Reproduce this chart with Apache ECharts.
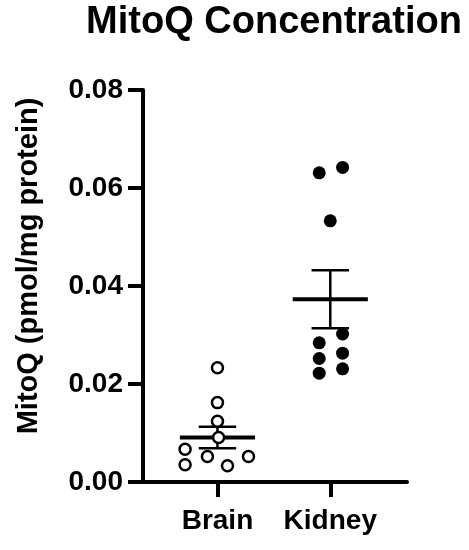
<!DOCTYPE html>
<html>
<head>
  <meta charset="utf-8" />
  <title>MitoQ Concentration</title>
  <script src="https://cdn.jsdelivr.net/npm/echarts@6/dist/echarts.min.js"></script>
  <style>
    html, body { margin: 0; padding: 0; background: #fff; }
    #main { width: 469px; height: 550px; }
  </style>
</head>
<body>
  <div id="main"></div>
  <script type="text/javascript">
    // groups and their x positions
    var groups = ['Brain', 'Kidney'];
    var groupPos = [1, 2];

    // individual values (pmol/mg protein) with horizontal scatter offsets
    var brainValues = [0.0233, 0.0162, 0.0124, 0.0091, 0.0067, 0.0035, 0.0052, 0.0033, 0.0052];
    var brainJitter = [0.0, 0.0, 0.0, 0.01, -0.287, -0.287, -0.089, 0.089, 0.275];
    var kidneyValues = [0.0631, 0.0284, 0.0252, 0.0222, 0.0642, 0.0302, 0.0263, 0.0231, 0.0533];
    var kidneyJitter = [-0.098, -0.098, -0.098, -0.098, 0.109, 0.109, 0.109, 0.109, 0.0];

    // mean and SEM shown by the bars
    var meanValues = [0.0091, 0.0373];
    var semValues = [0.0022, 0.0059];

    var yTicks = [0, 0.02, 0.04, 0.06, 0.08];

    var FONT = 'Arial, "Liberation Sans", sans-serif';

    function points(vals, jit, base) {
        return vals.map(function (v, i) { return [base + jit[i], v]; });
    }

    var myChart = echarts.init(document.getElementById('main'), null, {renderer: 'canvas'});

    var option = {
        backgroundColor: '#ffffff',
        animation: false,
        title: {
            text: 'MitoQ Concentration',
            left: 269, top: -1, textAlign: 'center',
            textStyle: {fontFamily: FONT, fontWeight: 'bold', fontSize: 38, color: '#000'}
        },
        grid: {left: 143, top: 90, width: 264, height: 392},
        xAxis: {
            type: 'value', min: 0.34, max: 2.68,
            splitLine: {show: false},
            axisLine: {show: true, lineStyle: {color: '#000', width: 4}},
            axisTick: {show: true, customValues: groupPos, length: 15, lineStyle: {color: '#000', width: 4}},
            axisLabel: {
                show: true, customValues: groupPos, margin: 25,
                formatter: function (v) { return groups[groupPos.indexOf(v)]; },
                fontFamily: FONT, fontWeight: 'bold', fontSize: 28, color: '#000'
            }
        },
        yAxis: {
            type: 'value', min: yTicks[0], max: yTicks[yTicks.length - 1], interval: 0.02,
            name: 'MitoQ (pmol/mg protein)', nameLocation: 'middle', nameGap: 100,
            nameTextStyle: {fontFamily: FONT, fontWeight: 'bold', fontSize: 29, color: '#000', padding: [0, 0, 0, 40]},
            splitLine: {show: false},
            axisLine: {show: true, lineStyle: {color: '#000', width: 4}},
            axisTick: {show: true, length: 15, lineStyle: {color: '#000', width: 4}},
            axisLabel: {
                margin: 20,
                formatter: function (v) { return v.toFixed(2); },
                fontFamily: FONT, fontWeight: 'bold', fontSize: 28, color: '#000'
            }
        },
        series: [
            {
                name: 'meanSem', type: 'custom', z: 2,
                data: groupPos.map(function (x, i) { return [x, meanValues[i], semValues[i]]; }),
                renderItem: function (params, api) {
                    var x = api.value(0), m = api.value(1), s = api.value(2);
                    var hw = 0.333, cw = 0.166;
                    var ml = api.coord([x - hw, m]), mr = api.coord([x + hw, m]);
                    var top = api.coord([x, m + s]), bot = api.coord([x, m - s]);
                    var tl = api.coord([x - cw, m + s]), tr = api.coord([x + cw, m + s]);
                    var bl = api.coord([x - cw, m - s]), br = api.coord([x + cw, m - s]);
                    var st = {stroke: '#000', lineWidth: 2.5};
                    return {type: 'group', children: [
                        {type: 'line', shape: {x1: top[0], y1: top[1], x2: bot[0], y2: bot[1]}, style: st},
                        {type: 'line', shape: {x1: tl[0], y1: tl[1], x2: tr[0], y2: tr[1]}, style: st},
                        {type: 'line', shape: {x1: bl[0], y1: bl[1], x2: br[0], y2: br[1]}, style: st},
                        {type: 'line', shape: {x1: ml[0], y1: ml[1], x2: mr[0], y2: mr[1]}, style: {stroke: '#000', lineWidth: 4}}
                    ]};
                }
            },
            {
                name: 'Brain', type: 'scatter', z: 3, symbol: 'circle', symbolSize: 11,
                itemStyle: {color: '#fff', borderColor: '#000', borderWidth: 2.5, opacity: 1},
                data: points(brainValues, brainJitter, groupPos[0])
            },
            {
                name: 'Kidney', type: 'scatter', z: 3, symbol: 'circle', symbolSize: 13,
                itemStyle: {color: '#000', opacity: 1},
                data: points(kidneyValues, kidneyJitter, groupPos[1])
            }
        ]
    };
    myChart.setOption(option);
  </script>
</body>
</html>
